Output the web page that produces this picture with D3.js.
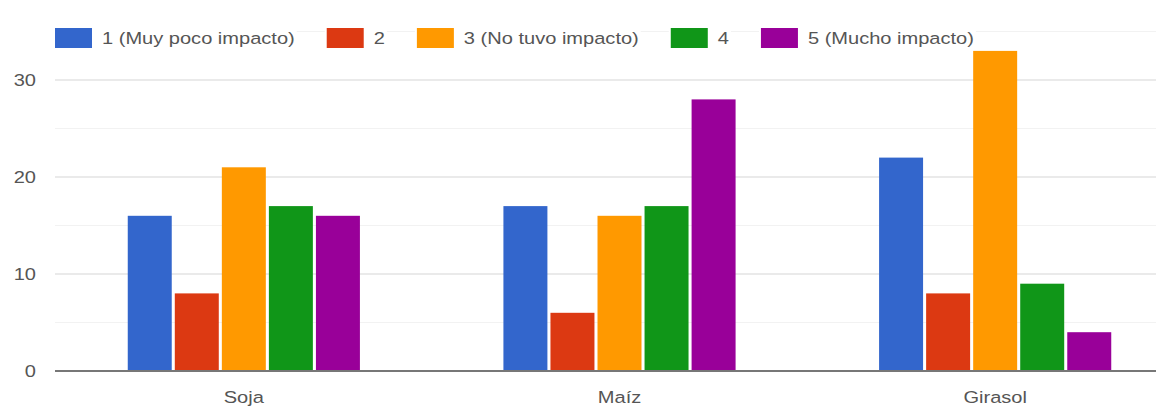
<!DOCTYPE html>
<html>
<head>
<meta charset="utf-8">
<script src="https://cdn.jsdelivr.net/npm/d3@7"></script>
<style>
  html, body { margin: 0; padding: 0; background: #fff; }
  svg { display: block; font-family: "Liberation Sans", Arial, sans-serif; }
  text { fill: #555; font-size: 17px; transform-box: fill-box; }
  .sx-start { transform-origin: left center; transform: scaleX(1.18); }
  .sx-end { transform-origin: right center; transform: scaleX(1.18); }
  .sx-mid { transform-origin: center center; transform: scaleX(1.18); }
</style>
</head>
<body>
<svg id="chart" width="1156" height="411"></svg>
<script>
const categories = ["Soja", "Maíz", "Girasol"];
const seriesNames = ["1 (Muy poco impacto)", "2", "3 (No tuvo impacto)", "4", "5 (Mucho impacto)"];
const seriesColors = ["#3366cc", "#dc3912", "#ff9900", "#109618", "#990099"];
const s1 = [16, 17, 22];
const s2 = [8, 6, 8];
const s3 = [21, 16, 33];
const s4 = [17, 17, 9];
const s5 = [16, 28, 4];
const majorTicks = [0, 10, 20, 30];
const minorTicks = [5, 15, 25, 35];

const seriesValues = [s1, s2, s3, s4, s5];

const svg = d3.select("#chart");
const W = 1156;
const left = 55;

const y = d3.scaleLinear().domain([0, 30]).range([371, 80]);
const x0 = d3.scaleBand().domain(categories).range([56, 1183]).paddingInner(0.382).paddingOuter(0.191);
const x1 = d3.scaleBand().domain(d3.range(seriesNames.length)).range([0, x0.bandwidth()]).paddingInner(0.065).paddingOuter(0);

// minor gridlines
svg.append("g").selectAll("line").data(minorTicks).join("line")
  .attr("x1", left).attr("x2", W)
  .attr("y1", d => y(d)).attr("y2", d => y(d))
  .attr("stroke", "#f2f2f2").attr("stroke-width", 1.2);

// major gridlines
svg.append("g").selectAll("line").data(majorTicks.filter(d => d !== 0)).join("line")
  .attr("x1", left).attr("x2", W)
  .attr("y1", d => y(d)).attr("y2", d => y(d))
  .attr("stroke", "#e3e3e3").attr("stroke-width", 1.5);

// bars
const rows = categories.map((c, i) => ({ cat: c, vals: seriesValues.map(s => s[i]) }));
svg.append("g").selectAll("g").data(rows).join("g")
  .attr("transform", d => `translate(${x0(d.cat)},0)`)
  .selectAll("rect").data(d => d.vals.map((v, j) => ({ v, j }))).join("rect")
  .attr("x", d => x1(d.j))
  .attr("width", x1.bandwidth())
  .attr("y", d => y(d.v))
  .attr("height", d => y(0) - y(d.v))
  .attr("fill", d => seriesColors[d.j]);

// baseline
svg.append("line")
  .attr("x1", left).attr("x2", W)
  .attr("y1", y(0)).attr("y2", y(0))
  .attr("stroke", "#777").attr("stroke-width", 2);

// y axis labels
const yAxis = d3.axisLeft(y).tickValues(majorTicks).tickSize(0).tickPadding(0).tickFormat(d3.format("d"));
const yg = svg.append("g").attr("transform", "translate(36,0)").call(yAxis);
yg.select(".domain").remove();
yg.selectAll("text").attr("class", "sx-end").style("font-family", null).style("font-size", "17px").attr("fill", "#555").attr("dy", "0.35em");
yg.attr("font-family", null).attr("font-size", null);

// x axis labels
const xAxis = d3.axisBottom(x0).tickSize(0).tickPadding(0);
const xg = svg.append("g").attr("transform", `translate(0,${y(0)})`).call(xAxis);
xg.select(".domain").remove();
xg.selectAll("text").attr("class", "sx-mid").attr("fill", "#555").attr("dy", "0").attr("y", 32);
xg.attr("font-family", null).attr("font-size", null);

// legend
const lg = svg.append("g");
let cx = 55;
const ly = 38;
seriesNames.forEach((name, i) => {
  const g = lg.append("g");
  const bg = g.append("rect").attr("fill", "#fff");
  g.append("rect").attr("x", cx).attr("y", ly - 10).attr("width", 37).attr("height", 20).attr("fill", seriesColors[i]);
  const t = g.append("text").attr("class", "sx-start").attr("x", cx + 47).attr("y", ly).attr("dy", "0.35em").text(name);
  const tw = t.node().getComputedTextLength() * 1.18;
  bg.attr("x", cx - 2).attr("y", ly - 11).attr("width", 37 + 10 + tw + 4).attr("height", 22);
  cx += 37 + 10 + tw + 32;
});
</script>
</body>
</html>
